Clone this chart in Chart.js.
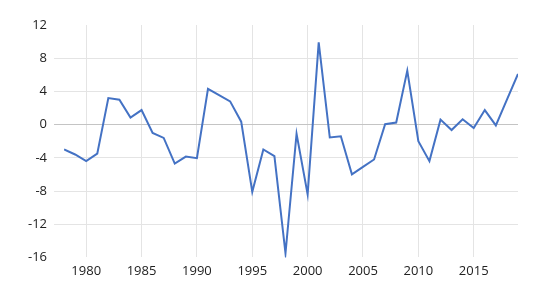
<!DOCTYPE html>
<html>
<head>
<meta charset="utf-8">
<script src="https://cdn.jsdelivr.net/npm/chart.js@4"></script>
<style>
    html, body { margin: 0; padding: 0; background: #fff; }
    #wrap { width: 550px; height: 290px; }
</style>
</head>
<body>
<div id="wrap"><canvas id="chart"></canvas></div>
<script>
// Chart data
const years = [1978, 1979, 1980, 1981, 1982, 1983, 1984, 1985, 1986, 1987,
    1988, 1989, 1990, 1991, 1992, 1993, 1994, 1995, 1996, 1997,
    1998, 1999, 2000, 2001, 2002, 2003, 2004, 2005, 2006, 2007,
    2008, 2009, 2010, 2011, 2012, 2013, 2014, 2015, 2016, 2017,
    2018, 2019];
const values = [-3.0, -3.6, -4.4, -3.5, 3.2, 3.0, 0.85, 1.75, -1.0, -1.6,
    -4.7, -3.85, -4.05, 4.3, 3.55, 2.8, 0.35, -8.1, -3.0, -3.8,
    -15.5, -1.1, -8.4, 9.9, -1.55, -1.4, -6.0, -5.1, -4.2, 0.05,
    0.25, 6.5, -2.0, -4.4, 0.6, -0.65, 0.65, -0.4, 1.75, -0.1,
    3.0, 6.1];
const xTicks = [1980, 1985, 1990, 1995, 2000, 2005, 2010, 2015];
const yTicks = [-16, -12, -8, -4, 0, 4, 8, 12];

const ctx = document.getElementById('chart').getContext('2d');

new Chart(ctx, {
    type: 'line',
    data: {
        datasets: [{
            data: years.map((y, i) => ({ x: y, y: values[i] })),
            borderColor: '#4472c4',
            borderWidth: 2,
            pointRadius: 0,
            tension: 0,
            fill: false
        }]
    },
    options: {
        responsive: true,
        maintainAspectRatio: false,
        animation: false,
        layout: { padding: { top: 25, right: 32, bottom: 5, left: 21 } },
        plugins: {
            legend: { display: false },
            tooltip: { enabled: false }
        },
        scales: {
            x: {
                type: 'linear',
                min: 1978,
                max: 2019,
                afterBuildTicks: scale => { scale.ticks = xTicks.map(v => ({ value: v })); },
                border: { display: false },
                grid: { color: '#e4e4e4', drawTicks: false },
                ticks: {
                    padding: 6,
                    color: '#222',
                    font: { family: '"Open Sans", sans-serif', size: 13 },
                    callback: v => String(v)
                }
            },
            y: {
                min: -16,
                max: 12,
                afterBuildTicks: scale => { scale.ticks = yTicks.map(v => ({ value: v })); },
                border: { display: false },
                grid: {
                    color: c => {
                        const v = c.tick ? c.tick.value : null;
                        if (v === 12 || v === -16) return 'rgba(0,0,0,0)';
                        return v === 0 ? '#c4c4c4' : '#e4e4e4';
                    },
                    tickLength: 10
                },
                ticks: {
                    padding: 7,
                    color: '#222',
                    font: { family: '"Open Sans", sans-serif', size: 13 }
                }
            }
        }
    }
});
</script>
</body>
</html>
